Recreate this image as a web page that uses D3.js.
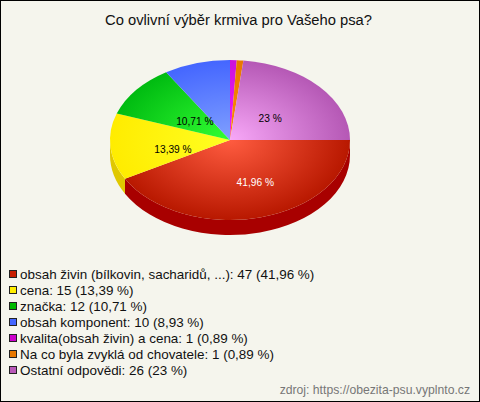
<!DOCTYPE html>
<html><head><meta charset="utf-8">
<script src="https://cdn.jsdelivr.net/npm/d3@7"></script>
<style>html,body{margin:0;padding:0;background:#f5f5ed}svg{display:block}text{font-family:"Liberation Sans",Arial,sans-serif}</style>
</head><body><script>
const title = "Co ovlivní výběr krmiva pro Vašeho psa?";
const source = "zdroj: https://obezita-psu.vyplnto.cz";
const categories = ["obsah živin (bílkovin, sacharidů, ...)","cena","značka","obsah komponent","kvalita(obsah živin) a cena","Na co byla zvyklá od chovatele","Ostatní odpovědi"];
const values = [47,15,12,10,1,1,26];
const percents = ["41,96","13,39","10,71","8,93","0,89","0,89","23"];
const sliceLabels = ["41,96 %","13,39 %","10,71 %",null,null,null,"23 %"];
const labelColors = ["#fff","#000","#000",null,null,null,"#000"];
const legendColors = ["#c81e00","#ffee00","#00bb00","#4466ff","#cc00cc","#e87800","#b858b8"];
const innerColors = ["#ff5c40","#ffff22","#33ff33","#80a0ff","#ee22ff","#ff8c00","#f8a8f8"];
const outerColors = ["#b81800","#ffec00","#00bb11","#4466ff","#cc11dd","#e87800","#b558b5"];
const sideColors = ["#a80000","#e0c800","#00a000","#3050d0","#a000a0","#c06000","#984098"];

const W=480,H=402,cx=230,cy=140,rx=120,ry=80,depth=15;
const svg=d3.select("body").append("svg").attr("width",W).attr("height",H);
svg.append("rect").attr("width",W).attr("height",H).attr("fill","#f5f5ed");
const defs=svg.append("defs");
values.forEach((v,i)=>{
  const g=defs.append("radialGradient").attr("id","g"+i).attr("gradientUnits","userSpaceOnUse")
    .attr("cx",0).attr("cy",0).attr("r",rx);
  g.append("stop").attr("offset",0).attr("stop-color",innerColors[i]);
  g.append("stop").attr("offset",1).attr("stop-color",outerColors[i]);
});
const pie=d3.pie().sort(null).startAngle(Math.PI/2).endAngle(Math.PI/2+2*Math.PI)(values);
const yS=ry/rx;
const arc=d3.arc().innerRadius(0).outerRadius(rx);

// side wall
const pt=a=>[rx*Math.cos(a-Math.PI/2),ry*Math.sin(a-Math.PI/2)];
const side=svg.append("g").attr("transform",`translate(${cx},${cy})`);
pie.forEach((d,i)=>{
  const a0=Math.max(d.startAngle,Math.PI/2),a1=Math.min(d.endAngle,Math.PI*1.5);
  if(a1<=a0) return;
  const [x0,y0]=pt(a0),[x1,y1]=pt(a1);
  side.append("path").attr("fill",sideColors[i])
    .attr("d",`M${x0},${y0}A${rx},${ry} 0 0 1 ${x1},${y1}L${x1},${y1+depth}A${rx},${ry} 0 0 0 ${x0},${y0+depth}Z`);
});
// top face
const face=svg.append("g").attr("transform",`translate(${cx},${cy}) scale(1,${yS})`);
face.selectAll("path").data(pie).join("path").attr("d",arc).attr("fill",(d,i)=>`url(#g${i})`);

// slice labels
const labelArc=d3.arc().innerRadius(rx*.92).outerRadius(rx*.92);
const labelNudgeX=[11.5,-2,8,0,0,0,-1];
const labelNudgeY=[6,6,4,0,0,0,3];
svg.append("g").selectAll("text").data(pie).join("text")
  .filter((d,i)=>sliceLabels[i])
  .attr("x",d=>{const i=d.index;return cx+labelArc.centroid(d)[0]/2+labelNudgeX[i];})
  .attr("y",d=>{const i=d.index;return cy+labelArc.centroid(d)[1]/2*yS+labelNudgeY[i]+4;})
  .attr("text-anchor","middle").attr("font-size",10.2)
  .attr("fill",d=>labelColors[d.index]).text(d=>sliceLabels[d.index]);

// title
svg.append("text").attr("x",238.5).attr("y",25).attr("text-anchor","middle").attr("font-size",14.75).attr("fill","#111").text(title);

// legend
const y=d3.scalePoint().domain(d3.range(categories.length)).range([274,370]);
const lg=svg.append("g").selectAll("g").data(categories).join("g").attr("transform",(d,i)=>`translate(0,${y(i)})`);
lg.append("rect").attr("x",9.5).attr("y",-3.5).attr("width",7).attr("height",7).attr("fill",(d,i)=>legendColors[i]).attr("stroke","#222").attr("stroke-width",1);
lg.append("text").attr("x",20).attr("y",5).attr("font-size",13.45).attr("fill","#111")
  .text((d,i)=>`${d}: ${values[i]} (${percents[i]} %)`);

svg.append("text").attr("x",470).attr("y",394).attr("text-anchor","end").attr("font-size",12.2).attr("fill","#777").text(source);
svg.append("rect").attr("x",.5).attr("y",.5).attr("width",W-1).attr("height",H-1).attr("fill","none").attr("stroke","#000");
</script></body></html>
